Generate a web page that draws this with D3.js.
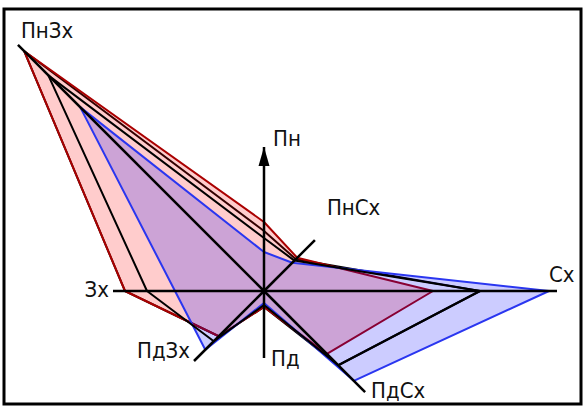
<!DOCTYPE html>
<html>
<head>
<meta charset="utf-8">
<script src="https://cdn.jsdelivr.net/npm/d3@7"></script>
<style>
  html, body { margin: 0; padding: 0; background: #fff; }
  svg { display: block; }
  .lbl { font-family: "Liberation Sans Narrow", "DejaVu Sans Condensed", "Liberation Sans", sans-serif; font-size: 22px; fill: #111; }
</style>
</head>
<body>
<svg id="chart" width="586" height="408"></svg>
<script>
// wind directions, clockwise from north
const directions = ["Пн", "ПнСх", "Сх", "ПдСх", "Пд", "ПдЗх", "Зх", "ПнЗх"];

// series values (same order as directions)
const redValues = [6.9, 4.7, 16.9, 8.9, 1.6, 6.4, 13.9, 33.9];
const blackValuesA = [6.0, 4.5, 21.6, 10.5, 1.6, 6.4, 13.9, 33.9];
const blackValuesB = [5.3, 4.3, 21.6, 10.5, 1.4, 7.1, 11.7, 30.5];
const blueValues = [3.9, 4.0, 28.5, 12.7, 1.2, 8.3, 8.9, 26.0];

// how far each axis ray is drawn
const axisLength = [14.4, 7.2, 29.3, 14.3, 6.7, 9.9, 15.1, 34.8];

const svg = d3.select("#chart");
const cx = 264, cy = 291;

const r = d3.scaleLinear().domain([0, 10]).range([0, 100]);
const angle = d3.scalePoint().domain(directions).range([0, 2 * Math.PI * 7 / 8]);

function pt(dir, v) {
    const a = angle(dir);
    return [r(v) * Math.sin(a), -r(v) * Math.cos(a)];
}

svg.append("rect")
    .attr("x", 4).attr("y", 9)
    .attr("width", 577).attr("height", 395)
    .attr("fill", "none")
    .attr("stroke", "#000")
    .attr("stroke-width", 3);

const g = svg.append("g").attr("transform", `translate(${cx},${cy})`);

const radial = d3.lineRadial()
    .angle(d => angle(d.dir))
    .radius(d => r(d.v))
    .curve(d3.curveLinearClosed);

const toRows = vals => directions.map((dir, i) => ({ dir, v: vals[i] }));

function outline(vals) {
    g.append("path")
        .attr("d", radial(toRows(vals)))
        .attr("fill", "none")
        .attr("stroke", "#000")
        .attr("stroke-width", 2)
        .attr("stroke-linejoin", "round");
}

// first black outline sits under the red one where they share edges
outline(blackValuesA);

g.append("path")
    .attr("d", radial(toRows(redValues)))
    .attr("fill", "rgba(255,0,0,0.2)")
    .attr("stroke", "#aa0000")
    .attr("stroke-width", 2)
    .attr("stroke-linejoin", "round");

g.append("path")
    .attr("d", radial(toRows(blueValues)))
    .attr("fill", "rgba(0,0,255,0.2)")
    .attr("stroke", "#2a36f0")
    .attr("stroke-width", 2)
    .attr("stroke-linejoin", "round");

outline(blackValuesB);

// axes
g.selectAll(".axis")
    .data(directions)
    .join("line")
    .attr("class", "axis")
    .attr("x1", 0).attr("y1", 0)
    .attr("x2", (d, i) => pt(d, axisLength[i])[0])
    .attr("y2", (d, i) => pt(d, axisLength[i])[1])
    .attr("stroke", "#000")
    .attr("stroke-width", 2.5);

// north arrow
const tip = pt("Пн", axisLength[0]);
g.append("path")
    .attr("d", `M${tip[0]},${tip[1]} L${tip[0] - 5.5},${tip[1] + 19} L${tip[0] + 5.5},${tip[1] + 19} Z`)
    .attr("fill", "#000");

// label offsets from the axis end
const labelPos = {
    "Пн": [9, -1, "start"],
    "ПнСх": [12, -25, "start"],
    "Сх": [-8, -9, "start"],
    "ПдСх": [6, 6, "start"],
    "Пд": [7, 8, "start"],
    "ПдЗх": [-4, -3, "end"],
    "Зх": [-4, 6, "end"],
    "ПнЗх": [3, -7, "start"]
};

g.selectAll(".lbl")
    .data(directions)
    .join("text")
    .attr("class", "lbl")
    .attr("x", (d, i) => pt(d, axisLength[i])[0] + labelPos[d][0])
    .attr("y", (d, i) => pt(d, axisLength[i])[1] + labelPos[d][1])
    .attr("text-anchor", d => labelPos[d][2])
    .text(d => d);
</script>
</body>
</html>
